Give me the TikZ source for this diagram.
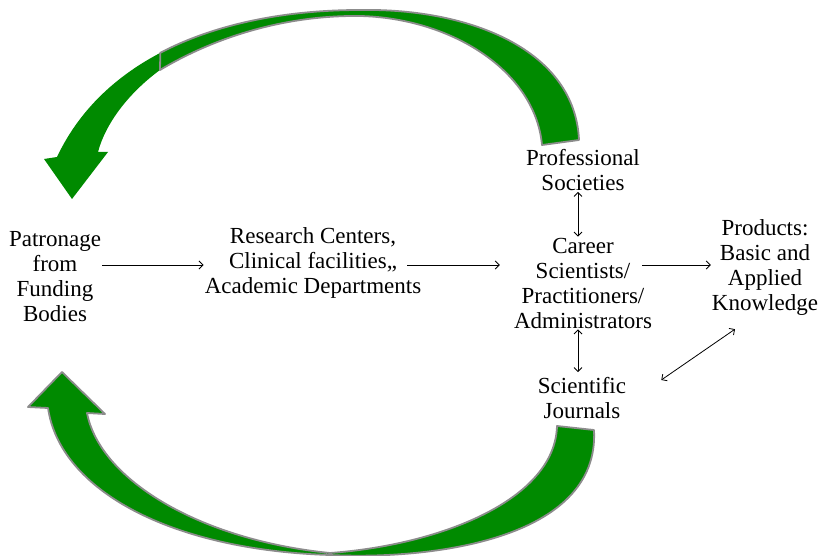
\documentclass[tikz,border=0pt]{standalone}
\usepackage{fontspec}
\setmainfont{Liberation Serif}
\usetikzlibrary{arrows.meta}
\definecolor{leafgreen}{RGB}{0,138,0}
\definecolor{rimgray}{RGB}{140,140,140}

\begin{document}
\begin{tikzpicture}[x=1pt,y=-1pt,
  blurb/.style={align=center,inner sep=1pt,font=\fontsize{23}{25}\selectfont},
  link/.style={line width=0.8pt,-{Straight Barb[length=4pt,width=8pt]}},
  twoway/.style={line width=0.8pt,{Straight Barb[length=4pt,width=8pt]}-{Straight Barb[length=4pt,width=8pt]}},
  leaf/.style={fill=leafgreen},
  rim/.style={draw=rimgray,line width=1.8pt,line join=round}]

\useasboundingbox (0,0) rectangle (819,556);

\fill[leaf] (72,199) -- (44,159) -- (57,157) .. controls (105,55) and (225,10) .. (360,10)
  -- (360,16) .. controls (280,15) and (210,40) .. (160,70)
  .. controls (130,92) and (106,122) .. (98,152) -- (108,152) -- cycle;
\filldraw[leaf,rim] (160.3,52.8) .. controls (216,23.6) and (285.75,10) .. (360,10)
  .. controls (470,8) and (575,50) .. (579,140) -- (542,145)
  .. controls (535,70) and (450,18) .. (360,16)
  .. controls (280,15) and (210,40) .. (160,70) -- cycle;

\filldraw[leaf,rim] (62,372) -- (28,407) -- (48,408)
  .. controls (60,490) and (170,550) .. (330,555)
  .. controls (430,560) and (600,540) .. (594,430) -- (557,426)
  .. controls (555,500) and (440,545) .. (330,553)
  .. controls (200,540) and (100,480) .. (87,413) -- (105,414) -- cycle;

\node[blurb] (patron) at (55,277) {Patronage\\from\\Funding\\Bodies};
\node[blurb] (research) at (313,263) {Research Centers,\\Clinical facilities,,\\Academic Departments};
\node[blurb] (society) at (583,170) {Professional\\Societies};
\node[blurb] (career) at (583,283) {Career\\Scientists/\\Practitioners/\\Administrators};
\node[blurb] (products) at (765,268) {Products:\\Basic and\\Applied\\Knowledge};
\node[blurb] (journal) at (582,398) {Scientific\\Journals};

\draw[link] ([yshift=12pt]patron.east) -- ([yshift=-2pt]research.west);
\draw[link] ([xshift=-15pt,yshift=-2pt]research.east) -- ([xshift=-13pt,yshift=18pt]career.west);
\draw[link] ([xshift=-11pt,yshift=18pt]career.east) -- ([yshift=3pt]products.west);
\draw[twoway] ([xshift=-5pt]society.south) -- ([xshift=-5pt]career.north);
\draw[twoway] ([xshift=-5pt]career.south) -- ([xshift=-4pt,yshift=4pt]journal.north);
\draw[twoway] ([xshift=34pt,yshift=18pt]journal.east) -- ([xshift=-30pt,yshift=-12pt]products.south);

\end{tikzpicture}
\end{document}
